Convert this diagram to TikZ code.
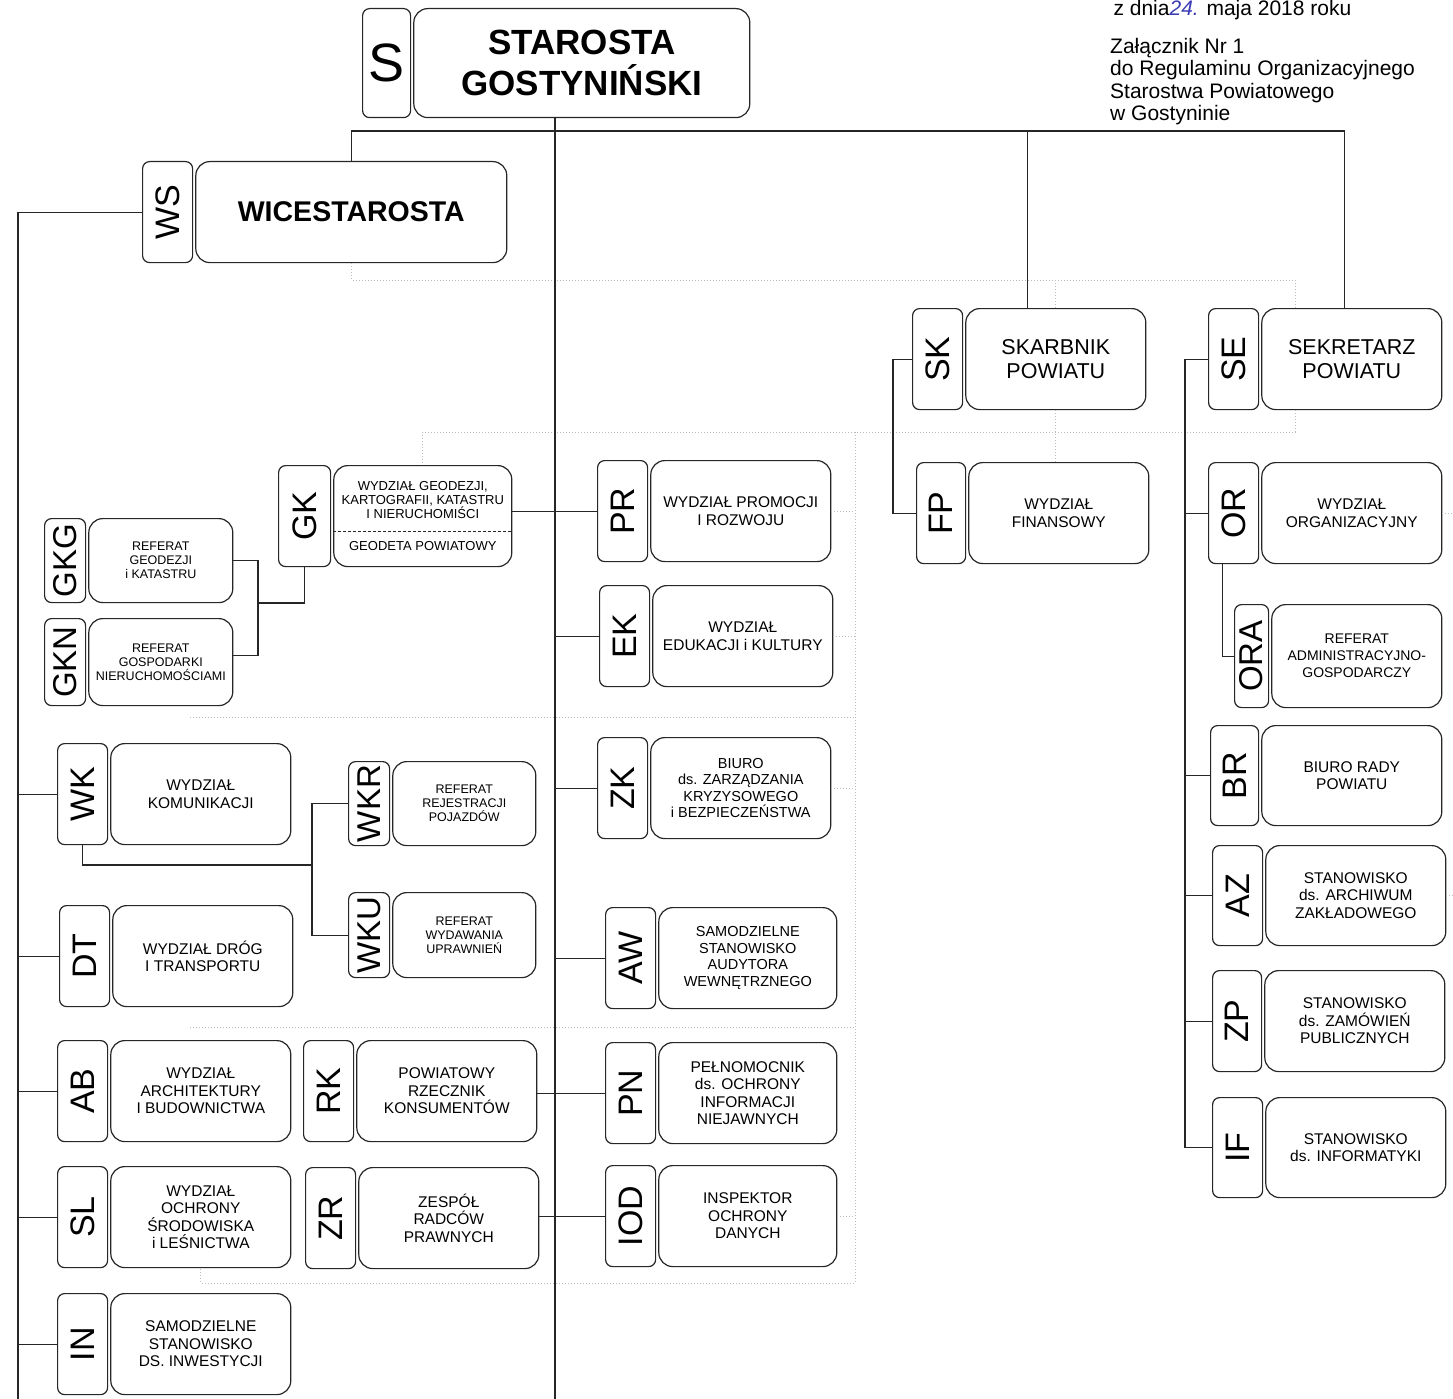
\documentclass[tikz,border=0pt]{standalone}
\usepackage{fontspec}
\setmainfont{Liberation Sans}
\usepackage{xcolor}
\usetikzlibrary{positioning}
\definecolor{LineGray}{HTML}{262626}
\definecolor{AuxGray}{HTML}{BDBDBD}
\definecolor{PenBlue}{HTML}{3B3BB5}
\newcommand{\vlab}[1]{\rotatebox{90}{#1}}
\tikzset{
  tab node/.style={draw=LineGray, rounded corners=7pt, line width=1.2pt, anchor=north west,
                   minimum width=50pt, minimum height=101pt, inner sep=0pt,
                   font=\fontsize{34}{34}\selectfont},
  unit node/.style={draw=LineGray, rounded corners=14pt, line width=1.2pt,
                    minimum width=180pt, minimum height=101pt, inner sep=1pt, align=center,
                    font=\fontsize{15.5}{17.5}\selectfont},
  small tab/.style={tab node, minimum width=41pt, minimum height=85pt,
                    font=\fontsize{33}{33}\selectfont},
  small unit/.style={unit node, minimum width=144pt, minimum height=85pt,
                     font=\fontsize{12.5}{14}\selectfont},
  head unit/.style={unit node, font=\fontsize{21.5}{24}\selectfont},
  link edge/.style={draw=LineGray, line width=1.1pt},
  aux edge/.style={draw=AuxGray, dotted, line width=1pt},
}

\begin{document}
\begin{tikzpicture}[x=1pt, y=-1pt]
  \useasboundingbox (0,0) rectangle (1453,1399);
  \coordinate (trunk) at (555,1399);
  \coordinate (rail) at (18,1399);
  \coordinate (bar) at (0,131);
  \coordinate (serail) at (1185,0);
  \coordinate (wkrail) at (312,865);
  \coordinate (gkrail) at (258,603);
  \coordinate (dA) at (0,280);
  \coordinate (dB) at (0,432);
  \coordinate (dC) at (190,717);
  \coordinate (dD) at (190,1027);
  \coordinate (dE) at (0,1283);
  \coordinate (dX) at (855,0);
  \coordinate (dR) at (1295,0);

  \node[anchor=base west, font=\fontsize{21}{22.5}\selectfont] (date) at (1110,16)
    {z dnia{\color{PenBlue}\itshape 24.} maja 2018 roku};
  \node[anchor=north west, align=left, inner sep=0pt, font=\fontsize{21}{22.5}\selectfont] (note) at (1110,38)
    {Załącznik Nr 1\\do Regulaminu Organizacyjnego\\Starostwa Powiatowego\\w Gostyninie};

  \node[tab node, minimum width=48pt, minimum height=109pt, font=\fontsize{54}{54}\selectfont] (s-t) at (362,8) {S};
  \node[unit node, right=2pt of s-t, minimum width=336pt, minimum height=109pt,
        font=\bfseries\fontsize{35}{41}\selectfont] (s) {STAROSTA\\GOSTYNIŃSKI};
  \node[tab node] (ws-t) at (142,161) {\vlab{WS}};
  \node[unit node, right=2pt of ws-t, minimum width=311pt,
        font=\bfseries\fontsize{28.5}{30}\selectfont] (ws) {WICESTAROSTA};
  \node[tab node] (sk-t) at (912,308) {\vlab{SK}};
  \node[head unit, right=2pt of sk-t] (sk) {SKARBNIK\\POWIATU};
  \node[tab node] (se-t) at (1208,308) {\vlab{SE}};
  \node[head unit, right=2pt of se-t] (se) {SEKRETARZ\\POWIATU};

  \node[tab node, minimum width=52pt] (gk-t) at (278,465) {\vlab{GK}};
  \node[unit node, right=2pt of gk-t, minimum width=178pt, font=\fontsize{13}{14}\selectfont] (gk)
    {WYDZIAŁ GEODEZJI,\\KARTOGRAFII, KATASTRU\\I NIERUCHOMIŚCI\\[18pt]GEODETA POWIATOWY};
  \node[small tab, minimum height=84pt] (gkg-t) at (44,518) {\vlab{GKG}};
  \node[small unit, right=2pt of gkg-t, minimum height=84pt] (gkg) {REFERAT\\GEODEZJI\\i KATASTRU};
  \node[small tab, minimum height=87pt] (gkn-t) at (44,618) {\vlab{GKN}};
  \node[small unit, right=2pt of gkn-t, minimum height=87pt] (gkn) {REFERAT\\GOSPODARKI\\NIERUCHOMOŚCIAMI};

  \node[tab node] (wk-t) at (57,743) {\vlab{WK}};
  \node[unit node, right=2pt of wk-t] (wk) {WYDZIAŁ\\KOMUNIKACJI};
  \node[small tab, minimum height=84pt] (wkr-t) at (348,761) {\vlab{WKR}};
  \node[small unit, right=2pt of wkr-t, minimum width=143pt, minimum height=84pt] (wkr) {REFERAT\\REJESTRACJI\\POJAZDÓW};
  \node[small tab] (wku-t) at (348,892) {\vlab{WKU}};
  \node[small unit, right=2pt of wku-t, minimum width=143pt] (wku) {REFERAT\\WYDAWANIA\\UPRAWNIEŃ};
  \node[tab node] (dt-t) at (59,905) {\vlab{DT}};
  \node[unit node, right=2pt of dt-t] (dt) {WYDZIAŁ DRÓG\\I TRANSPORTU};
  \node[tab node] (ab-t) at (57,1040) {\vlab{AB}};
  \node[unit node, right=2pt of ab-t] (ab) {WYDZIAŁ\\ARCHITEKTURY\\I BUDOWNICTWA};
  \node[tab node] (sl-t) at (57,1166) {\vlab{SL}};
  \node[unit node, right=2pt of sl-t] (sl) {WYDZIAŁ\\OCHRONY\\ŚRODOWISKA\\i LEŚNICTWA};
  \node[tab node] (inw-t) at (57,1293) {\vlab{IN}};
  \node[unit node, right=2pt of inw-t] (inw) {SAMODZIELNE\\STANOWISKO\\DS. INWESTYCJI};
  \node[tab node] (rk-t) at (303,1040) {\vlab{RK}};
  \node[unit node, right=2pt of rk-t] (rk) {POWIATOWY\\RZECZNIK\\KONSUMENTÓW};
  \node[tab node] (zr-t) at (305,1167) {\vlab{ZR}};
  \node[unit node, right=2pt of zr-t] (zr) {ZESPÓŁ\\RADCÓW\\PRAWNYCH};

  \node[tab node] (pr-t) at (597,460) {\vlab{PR}};
  \node[unit node, right=2pt of pr-t] (pr) {WYDZIAŁ PROMOCJI\\I ROZWOJU};
  \node[tab node] (ek-t) at (599,585) {\vlab{EK}};
  \node[unit node, right=2pt of ek-t] (ek) {WYDZIAŁ\\EDUKACJI i KULTURY};
  \node[tab node] (zk-t) at (597,737) {\vlab{ZK}};
  \node[unit node, right=2pt of zk-t, font=\fontsize{14.5}{16.5}\selectfont] (zk)
    {BIURO\\ds. ZARZĄDZANIA\\KRYZYSOWEGO\\i BEZPIECZEŃSTWA};
  \node[tab node] (aw-t) at (605,907) {\vlab{AW}};
  \node[unit node, right=2pt of aw-t, minimum width=178pt, font=\fontsize{14.5}{16.5}\selectfont] (aw)
    {SAMODZIELNE\\STANOWISKO\\AUDYTORA\\WEWNĘTRZNEGO};
  \node[tab node] (pn-t) at (605,1042) {\vlab{PN}};
  \node[unit node, right=2pt of pn-t, minimum width=178pt] (pn) {PEŁNOMOCNIK\\ds. OCHRONY\\INFORMACJI\\NIEJAWNYCH};
  \node[tab node] (iod-t) at (605,1165) {\vlab{IOD}};
  \node[unit node, right=2pt of iod-t, minimum width=178pt] (iod) {INSPEKTOR\\OCHRONY\\DANYCH};

  \node[tab node, minimum width=49pt] (fp-t) at (916,462) {\vlab{FP}};
  \node[unit node, right=2pt of fp-t] (fp) {WYDZIAŁ\\FINANSOWY};
  \node[tab node] (or-t) at (1208,462) {\vlab{OR}};
  \node[unit node, right=2pt of or-t] (or) {WYDZIAŁ\\ORGANIZACYJNY};
  \node[small tab, minimum width=34pt, minimum height=103pt, font=\fontsize{33}{33}\selectfont] (ora-t) at (1234,604) {\vlab{ORA}};
  \node[small unit, right=2pt of ora-t, minimum width=170pt, minimum height=103pt,
        font=\fontsize{14}{17}\selectfont] (ora) {REFERAT\\ADMINISTRACYJNO-\\GOSPODARCZY};
  \node[tab node, minimum width=48pt, minimum height=100pt] (br-t) at (1210,725) {\vlab{BR}};
  \node[unit node, right=2pt of br-t, minimum height=100pt] (br) {BIURO RADY\\POWIATU};
  \node[tab node, minimum height=100pt] (az-t) at (1212,845) {\vlab{AZ}};
  \node[unit node, right=2pt of az-t, minimum height=100pt] (az) {STANOWISKO\\ds. ARCHIWUM\\ZAKŁADOWEGO};
  \node[tab node, minimum width=49pt] (zp-t) at (1212,970) {\vlab{ZP}};
  \node[unit node, right=2pt of zp-t] (zp) {STANOWISKO\\ds. ZAMÓWIEŃ\\PUBLICZNYCH};
  \node[tab node, minimum height=100pt] (if-t) at (1212,1097) {\vlab{IF}};
  \node[unit node, right=2pt of if-t, minimum height=100pt] (if) {STANOWISKO\\ds. INFORMATYKI};

  \draw[draw=LineGray, densely dashed, line width=1pt] ([yshift=-15pt]gk.west) -- ([yshift=-15pt]gk.east);

  \draw[aux edge] (ws.south) -- (ws.south |- dA) -- (dR |- dA) -- (dR |- se.north);
  \draw[aux edge] (sk.north |- dA) -- (sk.north);
  \draw[aux edge] (dR |- se.south) -- (dR |- dB) -- (gk.north |- dB) -- (gk.north);
  \draw[aux edge] (sk.south) -- (sk.south |- fp.north);
  \draw[aux edge] (dX |- dB) -- (dX |- dE) -- (sl.south |- dE) -- (sl.south);
  \draw[aux edge] (dC) -- (dX |- dC);
  \draw[aux edge] (dD) -- (dX |- dD);
  \foreach \n in {pr, ek, zk, iod}
    \draw[aux edge] (\n.east) -- (dX |- \n.east);
  \draw[aux edge] (or.east) -- +(13,0);
  \draw[aux edge] (az.east) -- +(8,0);

  \draw[link edge] (trunk |- s.south) -- (trunk);
  \draw[link edge] (ws.north) |- ([xshift=-7pt]se.north |- bar) -- ([xshift=-7pt]se.north);
  \draw[link edge] ([xshift=-28pt]sk.north) -- ([xshift=-28pt]sk.north |- bar);
  \draw[link edge] (ws-t.west) -| (rail);
  \foreach \n in {wk, dt, ab, sl, inw}
    \draw[link edge] (rail |- \n-t.west) -- (\n-t.west);
  \foreach \n in {ek, zk, aw}
    \draw[link edge] (trunk |- \n-t.west) -- (\n-t.west);
  \draw[link edge] (gk.east |- pr-t.west) -- (pr-t.west);
  \draw[link edge] (rk.east |- pn-t.west) -- (pn-t.west);
  \draw[link edge] (zr.east |- iod-t.west) -- (iod-t.west);
  \draw[link edge] (sk-t.west) -- +(-19,0) |- (fp-t.west);
  \draw[link edge] (se-t.west) -| (serail |- if-t.west) -- (if-t.west);
  \foreach \n in {or, br, az, zp}
    \draw[link edge] (serail |- \n-t.west) -- (\n-t.west);
  \draw[link edge] ([xshift=-11pt]or-t.south) |- (ora-t.west);
  \draw[link edge] (wk-t.south) |- (wkrail);
  \draw[link edge] (wkr-t.west) -| (wkrail |- wku-t.west) -- (wku-t.west);
  \draw[link edge] (gk-t.south) |- (gkrail);
  \draw[link edge] (gkg.east) -| (gkrail) |- ([yshift=7pt]gkn.east);
\end{tikzpicture}
\end{document}
